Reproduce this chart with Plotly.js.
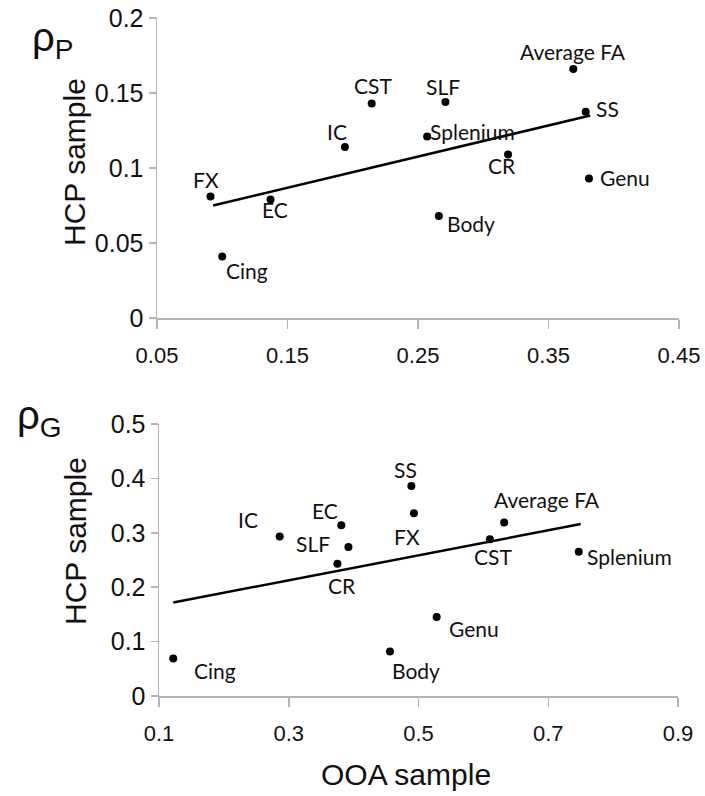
<!DOCTYPE html>
<html>
<head>
<meta charset="utf-8">
<script src="https://cdn.plot.ly/plotly-3.0.1.min.js"></script>
<style>html,body{margin:0;padding:0;background:#fff;}#chart{width:705px;height:796px;}</style>
</head>
<body>
<div id="chart"></div>
<script>
// ---- Data: top panel (rho_P) ----
var topLabels = ["FX","EC","Cing","IC","CST","SLF","Splenium","CR","Body","Average FA","SS","Genu"];
var topX = [0.091, 0.137, 0.100, 0.194, 0.2145, 0.271, 0.257, 0.319, 0.266, 0.369, 0.3785, 0.381];
var topY = [0.081, 0.079, 0.041, 0.114, 0.143, 0.144, 0.121, 0.109, 0.068, 0.166, 0.1375, 0.093];
var topFitX = [0.093, 0.382];
var topFitY = [0.075, 0.135];
var topXTicks = [0.05, 0.15, 0.25, 0.35, 0.45];
var topXTickText = ["0.05","0.15","0.25","0.35","0.45"];
var topYTicks = [0, 0.05, 0.1, 0.15, 0.2];
var topYTickText = ["0","0.05","0.1","0.15","0.2"];

// ---- Data: bottom panel (rho_G) ----
var botLabels = ["Cing","IC","EC","SLF","CR","SS","FX","Average FA","CST","Splenium","Genu","Body"];
var botX = [0.122, 0.286, 0.381, 0.392, 0.375, 0.489, 0.493, 0.632, 0.610, 0.747, 0.528, 0.456];
var botY = [0.069, 0.293, 0.314, 0.274, 0.243, 0.386, 0.336, 0.319, 0.288, 0.265, 0.145, 0.082];
var botFitX = [0.122, 0.750];
var botFitY = [0.172, 0.316];
var botXTicks = [0.1, 0.3, 0.5, 0.7, 0.9];
var botXTickText = ["0.1","0.3","0.5","0.7","0.9"];
var botYTicks = [0, 0.1, 0.2, 0.3, 0.4, 0.5];
var botYTickText = ["0","0.1","0.2","0.3","0.4","0.5"];

// ---- Label placement (style only): [xanchor, xshift, yshift] ----
var topLabelPos = [
  ["center",-5,17.5],["center",4,-10],["left",2,-13.5],["center",-7.5,16],
  ["center",1,18],["center",-2.5,16],["left",1,5],["center",-6,-11],
  ["left",6,-7.5],["center",0,17.5],["left",8,3],["left",9,1.5]
];
var botLabelPos = [
  ["left",19,-12],["center",-32,17],["center",-16,14.5],["center",-35,3],
  ["center",5,-22],["center",-6,16.5],["center",-6.5,-23],["center",43,22.5],
  ["center",3.5,-17.5],["left",6,-5],["left",10,-11],["left",0,-19]
];

var axisCol = "#b4b4b4";
var fam = "Liberation Sans, Arial, sans-serif";
var labelFont = {family: "Lato, Calibri, sans-serif", size: 21, color: "#111"};

var traces = [
  {x: topX, y: topY, xaxis: "x", yaxis: "y", type: "scatter", mode: "markers",
   marker: {color: "#000", size: 8}, hoverinfo: "skip"},
  {x: topFitX, y: topFitY, xaxis: "x", yaxis: "y", type: "scatter", mode: "lines",
   line: {color: "#000", width: 2.5}, hoverinfo: "skip"},
  {x: botX, y: botY, xaxis: "x2", yaxis: "y2", type: "scatter", mode: "markers",
   marker: {color: "#000", size: 8}, hoverinfo: "skip"},
  {x: botFitX, y: botFitY, xaxis: "x2", yaxis: "y2", type: "scatter", mode: "lines",
   line: {color: "#000", width: 2.5}, hoverinfo: "skip"}
];

function mkAnn(labels, xs, ys, pos, xr, yr) {
  return labels.map(function (t, i) {
    return {text: t, x: xs[i], y: ys[i], xref: xr, yref: yr, showarrow: false,
      xanchor: pos[i][0], yanchor: "middle", xshift: pos[i][1], yshift: pos[i][2],
      font: labelFont};
  });
}

var annotations = []
  .concat(mkAnn(topLabels, topX, topY, topLabelPos, "x", "y"))
  .concat(mkAnn(botLabels, botX, botY, botLabelPos, "x2", "y2"))
  .concat([
    {text: "ρ<sub><span style='font-size:28px'>P</span></sub>", xref: "paper", yref: "paper", x: 30/705, y: 1 - 40/796,
     xanchor: "left", yanchor: "middle", showarrow: false,
     font: {family: fam, size: 40, color: "#111"}},
    {text: "ρ<sub><span style='font-size:28px'>G</span></sub>", xref: "paper", yref: "paper", x: 15/705, y: 1 - 418/796,
     xanchor: "left", yanchor: "middle", showarrow: false,
     font: {family: fam, size: 40, color: "#111"}},
    {text: "HCP sample", xref: "paper", yref: "paper", x: 75/705, y: 1 - 162/796,
     xanchor: "center", yanchor: "middle", textangle: -90, showarrow: false,
     font: {family: fam, size: 30, color: "#111"}},
    {text: "HCP sample", xref: "paper", yref: "paper", x: 75/705, y: 1 - 541/796,
     xanchor: "center", yanchor: "middle", textangle: -90, showarrow: false,
     font: {family: fam, size: 30, color: "#111"}},
    {text: "OOA sample", xref: "paper", yref: "paper", x: 406/705, y: 1 - 774/796,
     xanchor: "center", yanchor: "middle", showarrow: false,
     font: {family: fam, size: 30, color: "#111"}}
  ]);

function xAx(dom, rng, tv, tt, anchor) {
  return {domain: dom, range: rng, anchor: anchor, tickvals: tv, ticktext: tt,
    showgrid: false, zeroline: false, showline: true, linecolor: axisCol, linewidth: 1.5,
    ticks: "outside", ticklen: 9, tickcolor: axisCol, tickwidth: 1.5,
    ticklabelstandoff: 8,
    tickfont: {family: fam, size: 22, color: "#111"}, automargin: false, fixedrange: true};
}
function yAx(dom, rng, tv, tt, anchor) {
  return {domain: dom, range: rng, anchor: anchor, tickvals: tv, ticktext: tt,
    showgrid: false, zeroline: false, showline: true, linecolor: axisCol, linewidth: 1.5,
    ticks: "outside", ticklen: 7, tickcolor: axisCol, tickwidth: 1.5,
    tickfont: {family: fam, size: 25, color: "#111"},
    automargin: false, fixedrange: true};
}

var layout = {
  width: 705, height: 796,
  margin: {l: 0, r: 0, t: 0, b: 0},
  paper_bgcolor: "#fff", plot_bgcolor: "#fff",
  showlegend: false,
  xaxis: xAx([157/705, 679/705], [0.05, 0.45], topXTicks, topXTickText, "y"),
  yaxis: yAx([1 - 318/796, 1 - 18/796], [0, 0.2], topYTicks, topYTickText, "x"),
  xaxis2: xAx([159/705, 678/705], [0.1, 0.9], botXTicks, botXTickText, "y2"),
  yaxis2: yAx([1 - 696/796, 1 - 424/796], [0, 0.5], botYTicks, botYTickText, "x2"),
  annotations: annotations
};

Plotly.newPlot("chart", traces, layout, {displayModeBar: false, staticPlot: true});
</script>
</body>
</html>
